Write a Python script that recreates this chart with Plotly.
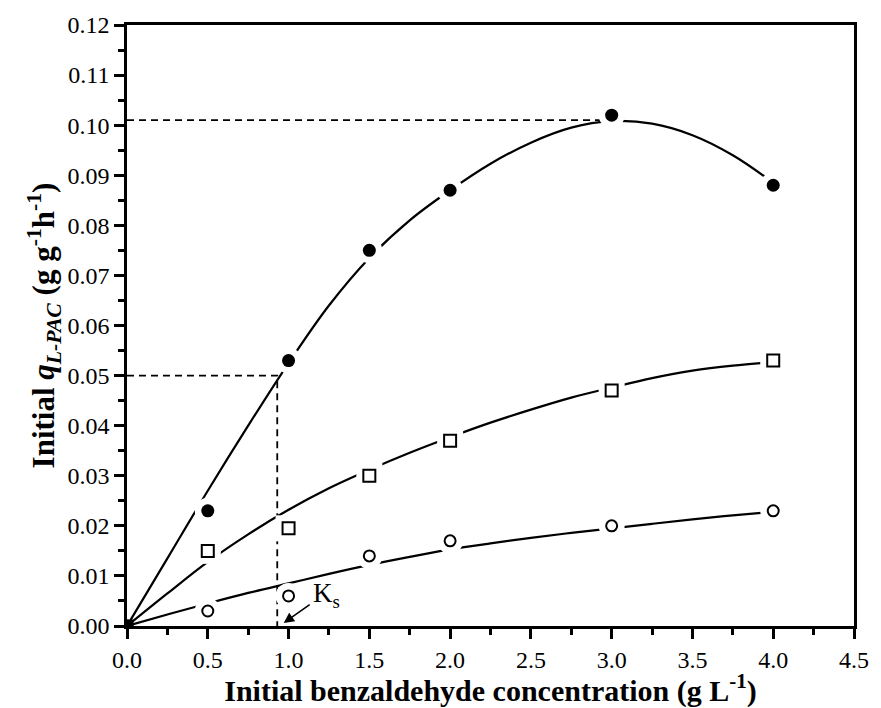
import plotly.graph_objects as go

# measured points
x_pts = [0.0, 0.5, 1.0, 1.5, 2.0, 3.0, 4.0]
q_filled = [0.0, 0.023, 0.053, 0.075, 0.087, 0.102, 0.088]
q_square = [0.0, 0.015, 0.0195, 0.030, 0.037, 0.047, 0.053]
q_open = [0.0, 0.003, 0.006, 0.014, 0.017, 0.020, 0.023]

# fitted curves
x_fit = [0.0, 0.25, 0.5, 0.75, 1.0, 1.25, 1.5, 1.75, 2.0, 2.25, 2.5, 2.75, 3.0, 3.25, 3.5, 3.75, 4.0]
fit_filled = [0.0, 0.0135, 0.027, 0.040, 0.0525, 0.064, 0.0735, 0.081, 0.087, 0.0923, 0.0965, 0.0995, 0.1008, 0.1003, 0.098, 0.094, 0.0885]
fit_square = [0.0, 0.0065, 0.0128, 0.0183, 0.0232, 0.0275, 0.0312, 0.0346, 0.0377, 0.0406, 0.0432, 0.0456, 0.0476, 0.0495, 0.051, 0.052, 0.0527]
fit_open = [0.0, 0.0023, 0.0045, 0.0066, 0.0085, 0.0104, 0.0122, 0.0138, 0.0153, 0.0165, 0.0176, 0.0186, 0.0195, 0.0204, 0.0213, 0.0221, 0.0228]

# reference lines
qmax_level = 0.101
half_level = 0.050
ks_value = 0.93
x_ticks = [0.0, 0.5, 1.0, 1.5, 2.0, 2.5, 3.0, 3.5, 4.0, 4.5]
y_ticks = [0.00, 0.01, 0.02, 0.03, 0.04, 0.05, 0.06, 0.07, 0.08, 0.09, 0.10, 0.11, 0.12]

FONT = "Liberation Serif"
fig = go.Figure()

# dashed guide lines
fig.add_trace(go.Scatter(x=[0, 2.95], y=[qmax_level, qmax_level], mode="lines",
                         line=dict(color="black", width=1.8, dash="7px,5px"), showlegend=False))
fig.add_trace(go.Scatter(x=[0, ks_value, ks_value], y=[half_level, half_level, 0], mode="lines",
                         line=dict(color="black", width=1.8, dash="7px,5px"), showlegend=False))

# fitted curves
for yf in (fit_filled, fit_square, fit_open):
    fig.add_trace(go.Scatter(x=x_fit, y=yf, mode="lines", line=dict(color="black", width=2.2, shape="spline"),
                             showlegend=False))

# white halos to make gaps in curves around markers
for yp, sym in ((q_filled, "circle"), (q_square, "square"), (q_open, "circle")):
    fig.add_trace(go.Scatter(x=x_pts[1:], y=yp[1:], mode="markers",
                             marker=dict(symbol=sym, size=26, color="white", line=dict(width=0)),
                             showlegend=False))

# markers
fig.add_trace(go.Scatter(x=x_pts, y=q_filled, mode="markers",
                         marker=dict(symbol="circle", size=13, color="black"), showlegend=False))
fig.add_trace(go.Scatter(x=x_pts[1:], y=q_square[1:], mode="markers",
                         marker=dict(symbol="square-open", size=12, color="black", line=dict(width=2)), showlegend=False))
fig.add_trace(go.Scatter(x=x_pts[1:], y=q_open[1:], mode="markers",
                         marker=dict(symbol="circle-open", size=11, color="black", line=dict(width=2)), showlegend=False))
fig.add_trace(go.Scatter(x=[0], y=[0], mode="markers",
                         marker=dict(symbol="square", size=13, color="black"), showlegend=False))

fig.add_annotation(x=0.97, y=0.0006, ax=1.14, ay=0.0045, xref="x", yref="y", axref="x", ayref="y",
                   text="", showarrow=True, arrowhead=2, arrowsize=1.3, arrowwidth=1.6, arrowcolor="black")
fig.add_annotation(x=1.14, y=0.0062, xref="x", yref="y", text="K<sub>s</sub>", showarrow=False,
                   xanchor="left", yanchor="middle", font=dict(family=FONT, size=27, color="black"))

axis_common = dict(showline=True, linecolor="black", linewidth=2.5, mirror=True, ticks="outside",
                   tickcolor="black", tickwidth=2.5, ticklen=10, showgrid=False, zeroline=False,
                   tickfont=dict(family=FONT, size=24, color="black"))
fig.update_xaxes(range=[0, 4.5], tickvals=x_ticks, ticktext=[f"{v:.1f}" for v in x_ticks],
                 minor=dict(ticks="outside", tickvals=[0.25 + 0.5 * i for i in range(9)], ticklen=6,
                            tickwidth=2.5, tickcolor="black"),
                 title=dict(text="<b>Initial benzaldehyde concentration (g L<sup>-1</sup>)</b>",
                            font=dict(family=FONT, size=30, color="black"), standoff=2),
                 **axis_common)
fig.update_yaxes(range=[0, 0.12], tickvals=y_ticks, ticktext=[f"{v:.2f}" for v in y_ticks],
                 minor=dict(ticks="outside", tickvals=[0.005 + 0.01 * i for i in range(12)], ticklen=6,
                            tickwidth=2.5, tickcolor="black"),
                 title=dict(text="<b>Initial <i>q</i><sub><i>L-PAC</i></sub> (g g<sup>-1</sup>h<sup>-1</sup>)</b>",
                            font=dict(family=FONT, size=31, color="black"), standoff=4),
                 **axis_common)

fig.update_layout(width=881, height=708, margin=dict(l=127, r=19, t=20, b=70),
                  plot_bgcolor="white", paper_bgcolor="white", showlegend=False)

fig.write_html("out.html")
